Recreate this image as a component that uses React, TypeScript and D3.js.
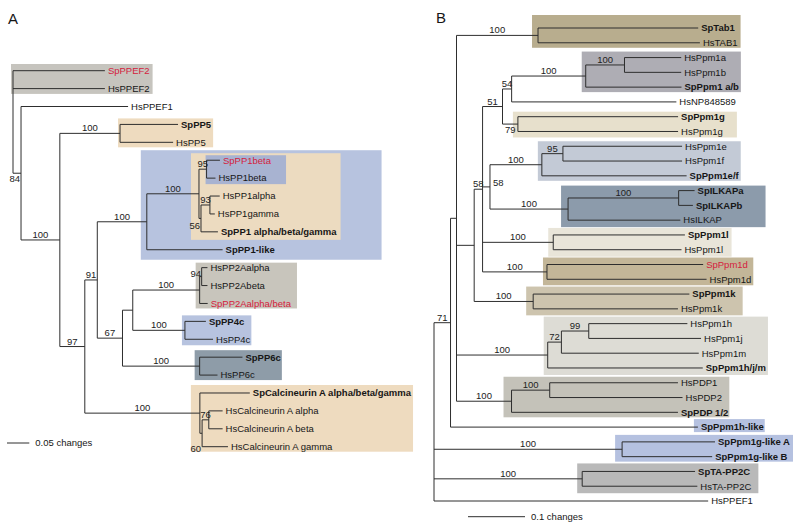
import React, { useEffect, useRef } from "react";
import * as d3 from "d3";

// [id / leaf name, parent, branch length (changes), bootstrap support]
type NodeRow = [string, string | null, number, number | null];

const treeA: NodeRow[] = [
  ["rootA", null, 0, null],
  ["SpPPEF2", "rootA", 0.206, null],
  ["HsPPEF2", "rootA", 0.206, null],
  ["a84", "rootA", 0.018, 84],
  ["HsPPEF1", "a84", 0.24, null],
  ["a100", "a84", 0.087, 100],
  ["aPP5", "a100", 0.135, 100],
  ["SpPP5", "aPP5", 0.13, null],
  ["HsPP5", "aPP5", 0.119, null],
  ["a97", "a100", 0.056, 97],
  ["a91", "a97", 0.028, 91],
  ["aPP1", "a91", 0.111, 100],
  ["aPP1core", "aPP1", 0.117, 100],
  ["a95", "aPP1core", 0.017, 95],
  ["SpPP1beta", "a95", 0.03, null],
  ["HsPP1beta", "a95", 0.02, null],
  ["a56", "aPP1core", 0.0045, 56],
  ["a93", "a56", 0.02, 93],
  ["HsPP1alpha", "a93", 0.022, null],
  ["HsPP1gamma", "a93", 0.011, null],
  ["SpPP1 alpha/beta/gamma", "a56", 0.038, null],
  ["SpPP1-like", "aPP1", 0.17, null],
  ["a67", "a91", 0.0565, 67],
  ["aPP24", "a67", 0.023, null],
  ["aPP2A", "aPP24", 0.15, 100],
  ["a94", "aPP2A", 0.0045, 94],
  ["HsPP2Aalpha", "a94", 0.013, null],
  ["HsPP2Abeta", "a94", 0.013, null],
  ["SpPP2Aalpha/beta", "aPP2A", 0.018, null],
  ["aPP4", "aPP24", 0.117, 100],
  ["SpPP4c", "aPP4", 0.047, null],
  ["HsPP4c", "aPP4", 0.063, null],
  ["aPP6", "a67", 0.173, 100],
  ["SpPP6c", "aPP6", 0.096, null],
  ["HsPP6c", "aPP6", 0.04, null],
  ["aCal", "a97", 0.258, 100],
  ["SpCalcineurin A alpha/beta/gamma", "aCal", 0.112, null],
  ["a60", "aCal", 0.005, 60],
  ["a76", "a60", 0.015, 76],
  ["HsCalcineurin A alpha", "a76", 0.031, null],
  ["HsCalcineurin A beta", "a76", 0.031, null],
  ["HsCalcineurin A gamma", "a60", 0.058, null],
];

const treeB: NodeRow[] = [
  ["rootB", null, 0, null],
  ["b71", "rootB", 0.029, 71],
  ["b456", "b71", 0.0105, null],
  ["bTab1", "b456", 0.143, 100],
  ["SpTab1", "bTab1", 0.281, null],
  ["HsTAB1", "bTab1", 0.284, null],
  ["b474", "b456", 0.031, null],
  ["b482", "b474", 0.0147, 58],
  ["b51", "b482", 0.035, 51],
  ["b54", "b51", 0.016, 54],
  ["bPpm1ab", "b54", 0.13, 100],
  ["b625", "bPpm1ab", 0.068, 100],
  ["HsPpm1a", "b625", 0.0995, null],
  ["HsPpm1b", "b625", 0.0995, null],
  ["SpPpm1 a/b", "bPpm1ab", 0.168, null],
  ["HsNP848589", "b54", 0.289, null],
  ["bPpm1g", "b51", 0.027, 79],
  ["SpPpm1g", "bPpm1g", 0.281, null],
  ["HsPpm1g", "bPpm1g", 0.281, null],
  ["b58", "b482", 0.013, 58],
  ["bPpm1ef", "b58", 0.091, 100],
  ["b95", "bPpm1ef", 0.037, 95],
  ["HsPpm1e", "b95", 0.209, null],
  ["HsPpm1f", "b95", 0.209, null],
  ["SpPpm1e/f", "bPpm1ef", 0.254, null],
  ["bILKAP", "b58", 0.137, 100],
  ["bILKAPab", "bILKAP", 0.194, 100],
  ["SpILKAPa", "bILKAPab", 0.028, null],
  ["SpILKAPb", "bILKAPab", 0.025, null],
  ["HsILKAP", "bILKAP", 0.197, null],
  ["bPpm1l", "b482", 0.124, 100],
  ["SpPpm1l", "bPpm1l", 0.231, null],
  ["HsPpm1l", "bPpm1l", 0.225, null],
  ["bPpm1d", "b482", 0.113, 100],
  ["SpPpm1d", "bPpm1d", 0.274, null],
  ["HsPpm1d", "bPpm1d", 0.28, null],
  ["bPpm1k", "b474", 0.1035, 100],
  ["SpPpm1k", "bPpm1k", 0.274, null],
  ["HsPpm1k", "bPpm1k", 0.254, null],
  ["bPpm1hjm", "b456", 0.16, 100],
  ["b72", "bPpm1hjm", 0.024, 72],
  ["b99", "b72", 0.048, 99],
  ["HsPpm1h", "b99", 0.173, null],
  ["HsPpm1j", "b99", 0.197, null],
  ["HsPpm1m", "b72", 0.241, null],
  ["SpPpm1h/j/m", "bPpm1hjm", 0.272, null],
  ["bPDP", "b456", 0.0965, 100],
  ["bPDP12", "bPDP", 0.067, 100],
  ["HsPDP1", "bPDP12", 0.225, null],
  ["HsPDP2", "bPDP12", 0.233, null],
  ["SpPDP 1/2", "bPDP", 0.292, null],
  ["SpPpm1h-like", "b71", 0.434, null],
  ["bPpm1gl", "rootB", 0.33, 100],
  ["SpPpm1g-like A", "bPpm1gl", 0.163, null],
  ["SpPpm1g-like B", "bPpm1gl", 0.158, null],
  ["bTA", "rootB", 0.26, 100],
  ["SpTA-PP2C", "bTA", 0.198, null],
  ["HsTA-PP2C", "bTA", 0.202, null],
  ["HsPPEF1", "rootB", 0.481, null],
];

const redLabels = ["SpPPEF2", "SpPP1beta", "SpPP2Aalpha/beta", "SpPpm1d"];
const panelLetters = ["A", "B"];
const scaleBarValues = [0.05, 0.1];
const scaleBarLabels = ["0.05 changes", "0.1 changes"];

// ---------- styles / layout (not data) ----------
type BoxStyle = { node: string; leaves?: string[]; dx0: number; padR: number; padT: number; padB: number; fill: string };
const boxesA: BoxStyle[] = [
  { node: "rootA", leaves: ["SpPPEF2", "HsPPEF2"], dx0: -2, padR: 3, padT: 6.7, padB: 5.3, fill: "#c6c4be" },
  { node: "aPP5", dx0: -2, padR: 2, padT: 6, padB: 5, fill: "#eedbbf" },
  { node: "aPP1", dx0: -6, padR: 45, padT: 10, padB: 10, fill: "#b7c3df" },
  { node: "aPP1core", dx0: -8, padR: 4, padT: 7, padB: 8, fill: "#ecdbc0" },
  { node: "a95", dx0: -1, padR: 15, padT: 5, padB: 6, fill: "#a8b3d1" },
  { node: "aPP2A", dx0: -4, padR: 6, padT: 5, padB: 5, fill: "#c8c5bc" },
  { node: "aPP4", dx0: -3, padR: 1, padT: 6, padB: 6, fill: "#b7c3df" },
  { node: "aPP6", dx0: -5, padR: 1, padT: 7, padB: 5, fill: "#8e9ca8" },
  { node: "aCal", dx0: -9, padR: 2, padT: 8, padB: 5, fill: "#eedbbf" },
];
const boxesB: BoxStyle[] = [
  { node: "bTab1", dx0: -6, padR: 3, padT: 13, padB: 5, fill: "#b8ad8e" },
  { node: "bPpm1ab", dx0: -4, padR: 2, padT: 6, padB: 5, fill: "#aeadb4" },
  { node: "bPpm1g", dx0: -5, padR: 12, padT: 5, padB: 6, fill: "#e7e0cc" },
  { node: "bPpm1ef", dx0: -4, padR: 2, padT: 5, padB: 5, fill: "#c3cad6" },
  { node: "bILKAP", dx0: -7, padR: 22, padT: 5, padB: 7, fill: "#8c9bab" },
  { node: "bPpm1l", dx0: -5, padR: 3, padT: 7, padB: 7, fill: "#e9e5d9" },
  { node: "bPpm1d", dx0: -4, padR: 2, padT: 7, padB: 6, fill: "#c3b698" },
  { node: "bPpm1k", dx0: -7, padR: 7, padT: 7.5, padB: 6.5, fill: "#cdc4ae" },
  { node: "bPpm1hjm", dx0: -4, padR: 2, padT: 7, padB: 7, fill: "#dddcd5" },
  { node: "bPDP", dx0: -8, padR: 1, padT: 6, padB: 5, fill: "#c4c2b9" },
  { node: "SpPpm1h-like", dx0: -4, padR: 1, padT: 8, padB: 5, fill: "#b5c1e0" },
  { node: "bPpm1gl", dx0: -7, padR: 3, padT: 7, padB: 5, fill: "#b5c1e0" },
  { node: "bTA", dx0: -5, padR: 7, padT: 8, padB: 7, fill: "#b9b9b9" },
];
type LabelPos = { pos: "above" | "below" | "right" | "bl" | "left"; dy?: number };
const labelPosA: Record<string, LabelPos> = {
  a84: { pos: "bl", dy: 9 },
  a56: { pos: "bl", dy: 11 },
  a60: { pos: "bl", dy: 19 },
  a94: { pos: "left", dy: 0 },
};
const labelPosB: Record<string, LabelPos> = {
  bPpm1g: { pos: "below", dy: 9 },
  b58: { pos: "right", dy: -1 },
};

const FONT = "'Liberation Sans', Arial, Helvetica, sans-serif";
const LINE = "#2e2e2e";
const TEXT = "#161616";
const RED = "#d4213d";

type PanelCfg = {
  rows: NodeRow[];
  boxes: BoxStyle[];
  labelPos: Record<string, LabelPos>;
  x0: number;
  pxPerUnit: number;
  yRange: [number, number];
  letter: string;
  letterXY: [number, number];
  barValue: number;
  barLabel: string;
  barXY: [number, number];
};

function drawPanel(svg: d3.Selection<SVGSVGElement, unknown, null, undefined>, cfg: PanelCfg) {
  const root: any = d3
    .stratify<NodeRow>()
    .id((d) => d[0])
    .parentId((d) => d[1])(cfg.rows);
  const x = d3.scaleLinear().domain([0, 1]).range([cfg.x0, cfg.x0 + cfg.pxPerUnit]);
  root.eachBefore((n: any) => {
    n.len = n.parent ? n.parent.len + n.data[2] : 0;
  });
  const leaves = root.leaves();
  const y = d3.scaleLinear().domain([0, leaves.length - 1]).range(cfg.yRange);
  leaves.forEach((l: any, i: number) => (l.py = y(i)));
  root.eachAfter((n: any) => {
    n.px = x(n.len);
    if (n.children) n.py = (n.children[0].py + n.children[n.children.length - 1].py) / 2;
  });

  const g = svg.append("g");
  const gBox = g.append("g");
  const gLine = g.append("g");
  const gText = g.append("g").attr("font-family", FONT).attr("font-size", 9.5);

  // branches
  const path = d3.path();
  root.each((n: any) => {
    if (n.parent) {
      path.moveTo(n.parent.px, n.py);
      path.lineTo(n.px, n.py);
    }
    if (n.children) {
      path.moveTo(n.px, n.children[0].py);
      path.lineTo(n.px, n.children[n.children.length - 1].py);
    }
  });
  gLine.append("path").attr("d", path.toString()).attr("fill", "none").attr("stroke", LINE).attr("stroke-width", 1);

  // leaf labels
  const textEnd = new Map<string, number>();
  leaves.forEach((l: any) => {
    const name = l.id as string;
    const red = redLabels.includes(name);
    const bold = name.startsWith("Sp") && !red;
    const tx = l.px + 3;
    const t = gText
      .append("text")
      .attr("x", tx)
      .attr("y", l.py)
      .attr("dy", "0.35em")
      .attr("fill", red ? RED : TEXT)
      .attr("font-weight", bold ? "bold" : "normal")
      .text(name);
    const w = (t.node() as SVGTextElement).getComputedTextLength();
    textEnd.set(name, tx + w);
  });

  // support values
  root.each((n: any) => {
    const s = n.data[3];
    if (s == null || !n.parent) return;
    const lp = cfg.labelPos[n.id] || { pos: "above" };
    let tx = (n.parent.px + n.px) / 2;
    let ty = n.py - 2;
    let anchor = "middle";
    if (lp.pos === "below") ty = n.py + (lp.dy ?? 9);
    else if (lp.pos === "right") {
      tx = n.px + 3;
      ty = n.py + (lp.dy ?? 0);
      anchor = "start";
    } else if (lp.pos === "bl") {
      tx = n.px - 1;
      ty = n.py + (lp.dy ?? 9);
      anchor = "end";
    } else if (lp.pos === "left") {
      tx = n.px - 0.5;
      ty = n.py + (lp.dy ?? 0);
      anchor = "end";
    }
    gText.append("text").attr("x", tx).attr("y", ty).attr("text-anchor", anchor).attr("fill", "#222").text(String(s));
  });

  // clade boxes
  cfg.boxes.forEach((b) => {
    const node: any = root.find((n: any) => n.id === b.node);
    if (!node) return;
    const names: string[] = b.leaves ? b.leaves : node.leaves().map((l: any) => l.id);
    const ls = leaves.filter((l: any) => names.includes(l.id));
    const ys = ls.map((l: any) => l.py);
    const x1 = (d3.max(names, (nm) => textEnd.get(nm) ?? 0) as number) + b.padR;
    const x0b = node.px + b.dx0;
    const y0 = (d3.min(ys) as number) - b.padT;
    const y1 = (d3.max(ys) as number) + b.padB;
    gBox.append("rect").attr("x", x0b).attr("y", y0).attr("width", x1 - x0b).attr("height", y1 - y0).attr("fill", b.fill);
  });

  // scale bar
  const len = x(cfg.barValue) - x(0);
  const [bx, by] = cfg.barXY;
  gLine.append("line").attr("x1", bx).attr("x2", bx + len).attr("y1", by).attr("y2", by).attr("stroke", LINE).attr("stroke-width", 1);
  gText.append("text").attr("x", bx + len + 6).attr("y", by).attr("dy", "0.35em").attr("fill", TEXT).text(cfg.barLabel);

  // panel letter
  g.append("text")
    .attr("x", cfg.letterXY[0])
    .attr("y", cfg.letterXY[1])
    .attr("font-family", FONT)
    .attr("font-size", 15)
    .attr("fill", TEXT)
    .text(cfg.letter);
}

export default function App() {
  const ref = useRef<SVGSVGElement>(null);
  useEffect(() => {
    if (!ref.current) return;
    const svg = d3.select(ref.current);
    svg.selectAll("*").remove();
    svg.append("rect").attr("width", 800).attr("height", 529).attr("fill", "#ffffff");
    drawPanel(svg, {
      rows: treeA,
      boxes: boxesA,
      labelPos: labelPosA,
      x0: 13,
      pxPerUnit: 446,
      yRange: [70.7, 446.7],
      letter: panelLetters[0],
      letterXY: [8, 24],
      barValue: scaleBarValues[0],
      barLabel: scaleBarLabels[0],
      barXY: [7, 443],
    });
    drawPanel(svg, {
      rows: treeB,
      boxes: boxesB,
      labelPos: labelPosB,
      x0: 434,
      pxPerUnit: 570,
      yRange: [28, 501],
      letter: panelLetters[1],
      letterXY: [436, 23],
      barValue: scaleBarValues[1],
      barLabel: scaleBarLabels[1],
      barXY: [468, 516.7],
    });
  }, []);
  return (
    <svg
      ref={ref}
      width={800}
      height={529}
      style={{ position: "absolute", left: 0, top: 0, display: "block" }}
    />
  );
}
